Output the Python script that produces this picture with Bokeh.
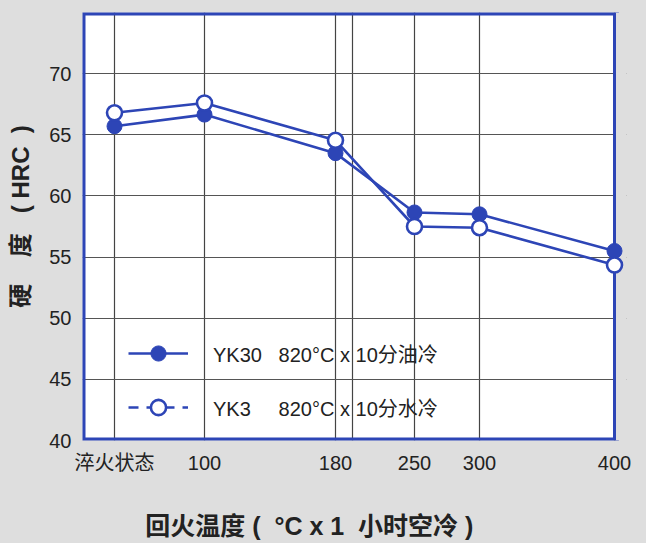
from bokeh.plotting import figure
from bokeh.models import FixedTicker, Legend, LegendItem, Range1d, BoxAnnotation
from bokeh.embed import file_html
from bokeh.resources import INLINE

# ---- data ----
categories = ["淬火状态", "100", "180", "250", "300", "400"]
# axis coordinate (non-linear temperature axis) of each category
x_axis_pos = [32, 122, 253, 332, 397, 532]
extra_grid_pos = [270]
yk30_oil = [65.7, 66.65, 63.5, 58.65, 58.5, 55.5]
yk3_water = [66.8, 67.6, 64.55, 57.5, 57.4, 54.35]
y_ticks = [40, 45, 50, 55, 60, 65, 70]
y_min, y_max = 40, 75
x_min, x_max = 0, 532

BLUE = "#2d45b6"
BG = "#dedede"
LATIN_CJK = "Liberation Sans, Noto Sans CJK SC"
NB = "\u00a0"

PAD = 12    # extra frame room on the right so the last markers are not clipped
HALF = 1.5  # half the frame line width (1 axis unit = 1 px here)

p = figure(width=646, height=543, output_backend="svg", toolbar_location=None,
           x_range=Range1d(x_min, x_max + PAD), y_range=Range1d(y_min, y_max),
           min_border_left=82, min_border_right=32 - PAD, min_border_top=12, min_border_bottom=103)
p.background_fill_color = BG
p.border_fill_color = BG
p.outline_line_color = None

# white plotting area and blue frame
p.add_layout(BoxAnnotation(left=x_min, right=x_max, bottom=y_min, top=y_max,
                           fill_color="white", fill_alpha=1, line_color=None, level="image"))
p.add_layout(BoxAnnotation(left=x_min, right=x_max + HALF, bottom=y_min, top=y_max,
                           fill_alpha=0, line_color=BLUE, line_alpha=1, line_width=6, level="underlay"))
p.add_layout(BoxAnnotation(left=x_max + HALF, bottom=y_min, top=y_max,
                           fill_color=BG, fill_alpha=1, line_color=None, level="underlay"))

# axes
p.xaxis.ticker = FixedTicker(ticks=x_axis_pos + extra_grid_pos)
overrides = {x: lab for x, lab in zip(x_axis_pos, categories)}
overrides[extra_grid_pos[0]] = ""
p.xaxis.major_label_overrides = overrides
p.yaxis.ticker = FixedTicker(ticks=y_ticks)
for ax in (p.xaxis[0], p.yaxis[0]):
    ax.axis_line_color = None
    ax.major_tick_line_color = None
    ax.minor_tick_line_color = None
    ax.major_tick_out = 0
    ax.major_tick_in = 0
    ax.major_label_text_font = LATIN_CJK
    ax.major_label_text_font_size = "20px"
    ax.major_label_text_color = "#222222"
p.xaxis.major_label_standoff = 11
p.yaxis.major_label_standoff = 11

# (leading spaces shift the visible text upwards, as in the original)
p.yaxis.axis_label = NB * 3 + "硬" + NB * 4 + "度" + NB * 3 + "(" + NB + "HRC" + NB * 2 + ")"
p.yaxis.axis_label_text_font = LATIN_CJK
p.yaxis.axis_label_text_font_size = "24px"
p.yaxis.axis_label_text_font_style = "bold"
p.yaxis.axis_label_text_color = "#222222"
p.yaxis.axis_label_standoff = 12

# x-axis title (trailing spaces shift its visible centre to the left, as in the original)
p.xaxis.axis_label = ("回火温度" + NB + "(" + NB * 2 + "°C" + NB + "x" + NB + "1" + NB * 2
                      + "小时空冷" + NB + ")" + NB * 13)
p.xaxis.axis_label_text_font = LATIN_CJK
p.xaxis.axis_label_text_font_size = "25px"
p.xaxis.axis_label_text_font_style = "bold"
p.xaxis.axis_label_text_color = "#222222"
p.xaxis.axis_label_standoff = 35

# grid
p.xgrid.ticker = FixedTicker(ticks=x_axis_pos + extra_grid_pos)
p.ygrid.ticker = FixedTicker(ticks=y_ticks)
p.xgrid.grid_line_color = "#444444"
p.ygrid.grid_line_color = "#555555"
p.xgrid.grid_line_width = 1.2
p.ygrid.grid_line_width = 1.2

# series
p.line(x_axis_pos, yk30_oil, line_color=BLUE, line_width=2.6)
p.scatter(x_axis_pos, yk30_oil, size=15, fill_color=BLUE, line_color=BLUE, line_width=1)
p.line(x_axis_pos, yk3_water, line_color=BLUE, line_width=2.6)
p.scatter(x_axis_pos, yk3_water, size=15, fill_color="white", line_color=BLUE, line_width=2.6)

# legend-only renderers (never visible in the plot: NaN data)
nan = [float("nan")]
lg1 = p.line(nan, nan, line_color=BLUE, line_width=2.6)
lg2 = p.line(nan, nan, line_color=BLUE, line_width=2.6, line_dash="10 8")
lm1 = p.scatter(nan, nan, size=15, fill_color=BLUE, line_color=BLUE, line_width=1)
lm2 = p.scatter(nan, nan, size=15, fill_color="white", line_color=BLUE, line_width=2.6)

legend = Legend(items=[
    LegendItem(label="YK30" + NB * 3 + "820°C x 10分油冷", renderers=[lg1, lm1]),
    LegendItem(label="YK3" + NB * 5 + "820°C x 10分水冷", renderers=[lg2, lm2]),
], location=(46, 14), orientation="vertical")
legend.background_fill_alpha = 0
legend.border_line_color = None
legend.padding = 0
legend.margin = 0
legend.spacing = 16
legend.glyph_width = 60
legend.glyph_height = 38
legend.label_height = 38
legend.label_standoff = 25
legend.label_text_font = LATIN_CJK
legend.label_text_font_size = "20px"
legend.label_text_color = "#222222"
p.add_layout(legend, "center")

html = file_html(p, INLINE)
html = html.replace("</head>", "<style>body{background:%s;}</style></head>" % BG, 1)
open("out.html", "w").write(html)
